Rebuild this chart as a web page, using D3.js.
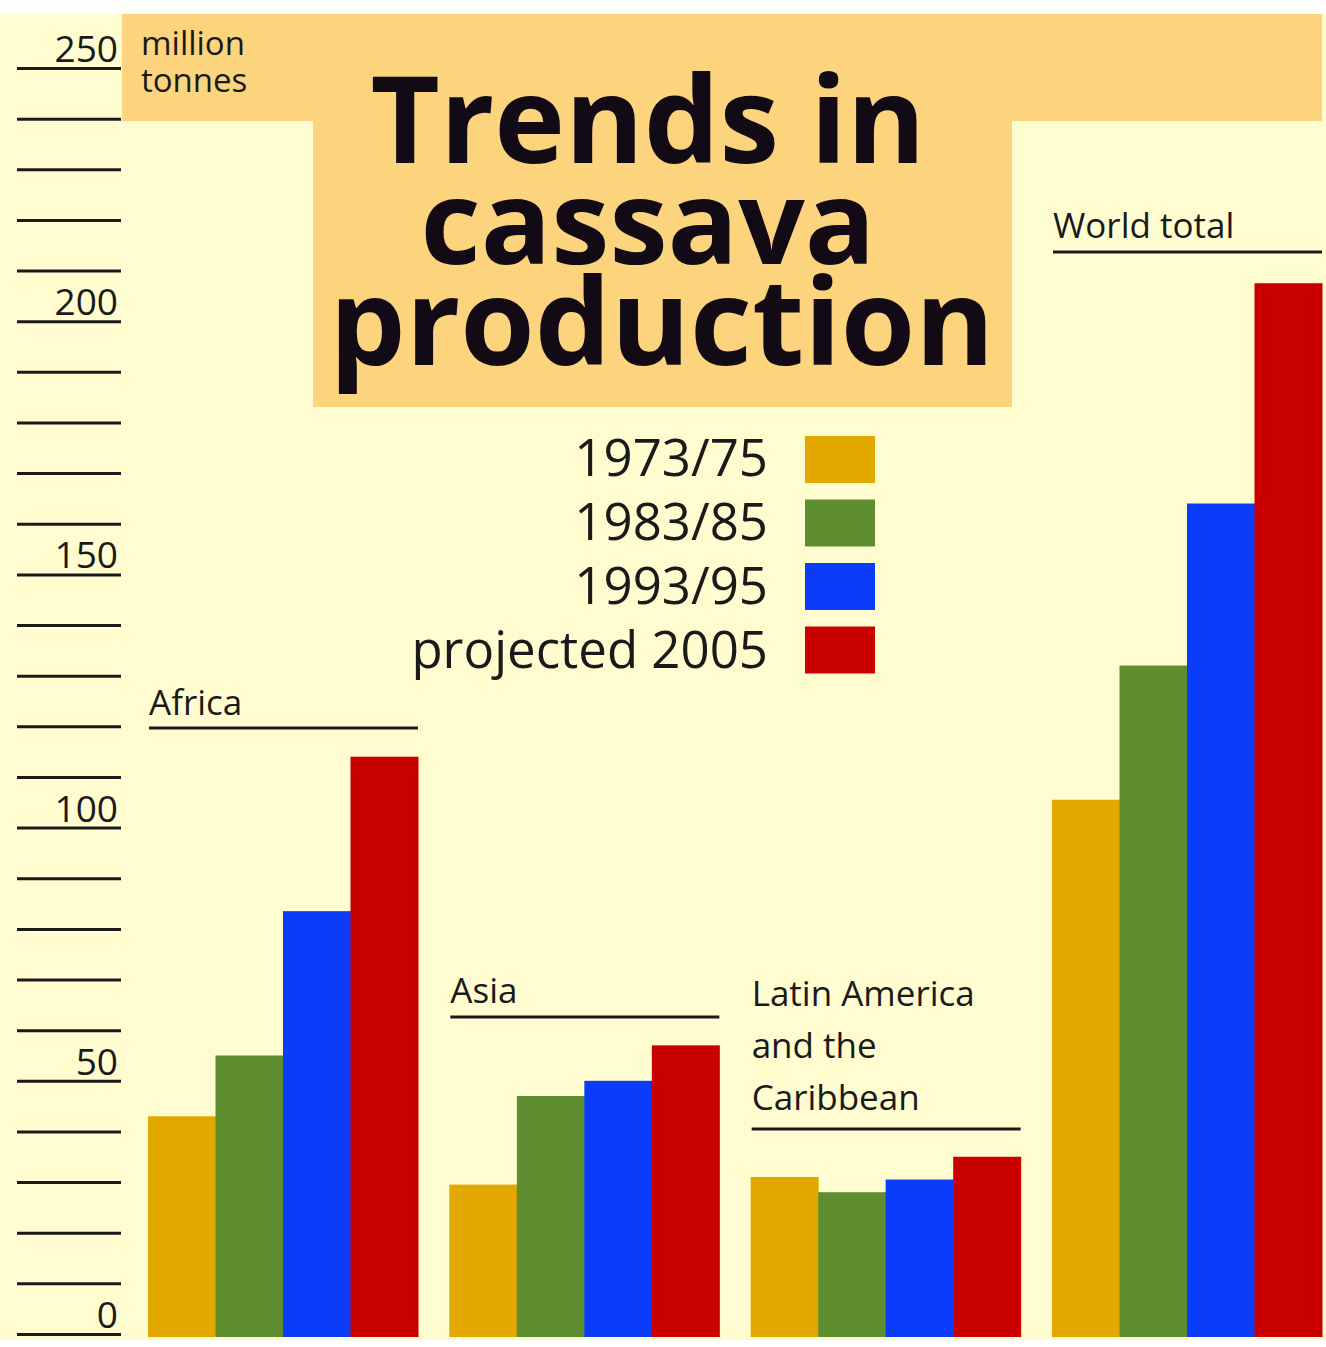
<!DOCTYPE html>
<html><head><meta charset="utf-8">
<script src="https://cdn.jsdelivr.net/npm/d3@7"></script>
<style>html,body{margin:0;padding:0;background:#fff;}svg{display:block;}</style>
</head><body>
<svg id="chart" width="1326" height="1347"></svg>
<script>
const groups = ["Africa", "Asia", "Latin America and the Caribbean", "World total"];
const series = ["1973/75", "1983/85", "1993/95", "projected 2005"];
const seriesColors = ["#E2A800", "#5E8E30", "#0A3CFA", "#CA0000"];
const v1973 = [43, 29.5, 31, 105.5];
const v1983 = [55, 47, 28, 132];
const v1993 = [83.5, 50, 30.5, 164];
const v2005 = [114, 57, 35, 207.5];
const tickLabels = [0, 50, 100, 150, 200, 250];
const titleLines = ["Trends in", "cassava", "production"];
const unitLines = ["million", "tonnes"];

const allVals = [v1973, v1983, v1993, v2005];
const data = groups.map((g, i) => ({group: g, values: series.map((s, j) => ({series: s, value: allVals[j][i]}))}));

const svg = d3.select("#chart");
const font = "'Open Sans', 'Noto Sans', sans-serif";

// backgrounds
svg.append("rect").attr("x", 0).attr("y", 14).attr("width", 1326).attr("height", 1326).attr("fill", "#FFFDD0");
svg.append("rect").attr("x", 122).attr("y", 14).attr("width", 1200).attr("height", 107).attr("fill", "#FCD47E");
svg.append("rect").attr("x", 313).attr("y", 14).attr("width", 699).attr("height", 393).attr("fill", "#FCD47E");

const y = d3.scaleLinear().domain([0, 250]).range([1334, 68]);

// tick lines every 10
const axis = d3.axisLeft(y).tickValues(d3.range(0, 251, 10)).tickSize(104).tickFormat("");
const ax = svg.append("g").attr("transform", "translate(121,0)").call(axis);
ax.select(".domain").remove();
ax.selectAll(".tick line").attr("stroke", "#1a1a1a").attr("stroke-width", 3);

svg.append("g").selectAll("text").data(tickLabels).join("text")
  .attr("x", 118).attr("y", d => y(d) - 6)
  .attr("text-anchor", "end")
  .attr("font-family", font).attr("font-size", 37).attr("fill", "#1a1a1a")
  .text(d => d);

const unitText = svg.append("text").attr("font-family", font).attr("font-size", 33).attr("fill", "#1a1a1a");
unitText.selectAll("tspan").data(unitLines).join("tspan")
  .attr("x", 141).attr("y", (d, i) => 55 + i * 37).text(d => d);

// title (single text element, one tspan per line)
const titleTargets = [555, 455, 665];
const titleCenters = [648, 648, 662];
const title = svg.append("text").attr("text-anchor", "middle")
  .attr("font-family", font).attr("font-weight", 700).attr("font-size", 118).attr("fill", "#120a14");
title.selectAll("tspan").data(titleLines).join("tspan")
  .attr("x", (d, i) => titleCenters[i]).attr("y", (d, i) => 163 + i * 101)
  .text(d => d)
  .each(function(d, i) {
    const w = this.getComputedTextLength();
    const fs = 118 * titleTargets[i] / w;
    d3.select(this).attr("font-size", Math.min(fs, 124));
  });

// legend
const legend = svg.append("g");
series.forEach((s, i) => {
  legend.append("text").attr("x", 768).attr("y", 476 + i * 64)
    .attr("text-anchor", "end").attr("font-family", font).attr("font-size", 51).attr("fill", "#1a1a1a")
    .text(s);
  legend.append("rect").attr("x", 805).attr("y", 436 + i * 63.5).attr("width", 70).attr("height", 47)
    .attr("fill", seriesColors[i]);
});

// bars
const x0 = d3.scaleBand().domain(groups).range([148, 1322]).paddingInner(0.104).paddingOuter(0);
const x1 = d3.scaleBand().domain(series).range([0, x0.bandwidth()]).padding(0);
const color = d3.scaleOrdinal().domain(series).range(seriesColors);

const gg = svg.append("g").selectAll("g").data(data).join("g")
  .attr("transform", d => `translate(${x0(d.group)},0)`);
gg.selectAll("rect").data(d => d.values).join("rect")
  .attr("x", d => x1(d.series)).attr("width", x1.bandwidth() + 0.5)
  .attr("y", d => y(d.value)).attr("height", d => 1337 - y(d.value))
  .attr("fill", d => color(d.series));

// group labels
const labelInfo = [
  {lines: ["Africa"], baseY: 715, lineY: 728},
  {lines: ["Asia"], baseY: 1003, lineY: 1017},
  {lines: ["Latin America", "and the", "Caribbean"], baseY: 1006, lineY: 1129},
  {lines: ["World total"], baseY: 238, lineY: 252}
];
groups.forEach((g, i) => {
  const info = labelInfo[i];
  const gx = x0(g);
  const t = svg.append("text").attr("font-family", font).attr("font-size", 35).attr("fill", "#1a1a1a");
  t.selectAll("tspan").data(info.lines).join("tspan")
    .attr("x", gx + 1).attr("y", (d, k) => info.baseY + k * 52).text(d => d);
  svg.append("line").attr("x1", gx + 1).attr("x2", gx + x0.bandwidth())
    .attr("y1", info.lineY).attr("y2", info.lineY)
    .attr("stroke", "#1a1a1a").attr("stroke-width", 3);
});
</script>
</body></html>
